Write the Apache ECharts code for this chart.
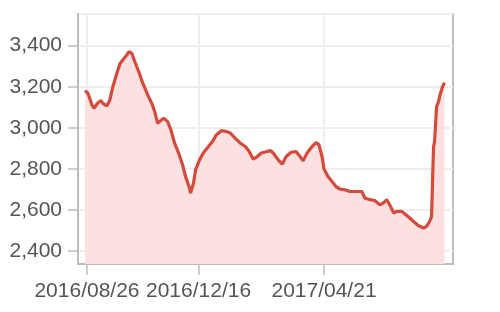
<!DOCTYPE html>
<html>
<head>
<meta charset="utf-8">
<script src="https://cdn.jsdelivr.net/npm/echarts@6/dist/echarts.min.js"></script>
<style>
html,body{margin:0;padding:0;background:#fff;}
#c{width:500px;height:312px;}
</style>
</head>
<body>
<div id="c"></div>
<script>
var dates = [
'2016-08-24','2016-08-27','2016-08-31','2016-09-02','2016-09-06','2016-09-09','2016-09-11','2016-09-15','2016-09-18','2016-09-21',
'2016-09-25','2016-09-28','2016-10-01','2016-10-05','2016-10-07','2016-10-10','2016-10-13','2016-10-17','2016-10-21','2016-10-26',
'2016-10-30','2016-11-02','2016-11-05','2016-11-07','2016-11-11','2016-11-15','2016-11-18','2016-11-22','2016-11-26','2016-11-30',
'2016-12-03','2016-12-07','2016-12-08','2016-12-11','2016-12-13','2016-12-17','2016-12-21','2016-12-26','2016-12-30','2017-01-03',
'2017-01-08','2017-01-13','2017-01-17','2017-01-22','2017-01-27','2017-02-01','2017-02-05','2017-02-09','2017-02-13','2017-02-17',
'2017-02-21','2017-02-26','2017-03-01','2017-03-06','2017-03-10','2017-03-14','2017-03-19','2017-03-24','2017-03-28','2017-03-31',
'2017-04-04','2017-04-09','2017-04-13','2017-04-16','2017-04-19','2017-04-21','2017-04-25','2017-04-29','2017-05-03','2017-05-07',
'2017-05-12','2017-05-17','2017-05-22','2017-05-29','2017-06-01','2017-06-06','2017-06-11','2017-06-16','2017-06-20','2017-06-23',
'2017-06-26','2017-06-30','2017-07-03','2017-07-08','2017-07-11','2017-07-16','2017-07-21','2017-07-25','2017-07-30','2017-08-02',
'2017-08-05','2017-08-07','2017-08-08','2017-08-09','2017-08-10','2017-08-12','2017-08-14','2017-08-15','2017-08-18','2017-08-20'
];
var values = [
3181,3168,3111,3095,3122,3132,3119,3106,3136,3200,
3265,3311,3330,3354,3370,3363,3322,3273,3217,3160,
3120,3079,3022,3030,3047,3030,2994,2925,2877,2820,
2763,2706,2682,2731,2795,2844,2879,2909,2933,2966,
2986,2982,2974,2949,2925,2909,2884,2847,2860,2877,
2882,2889,2877,2844,2823,2860,2881,2884,2860,2839,
2877,2909,2928,2917,2860,2799,2763,2739,2714,2702,
2698,2690,2690,2690,2658,2650,2646,2625,2636,2650,
2625,2585,2593,2593,2582,2561,2539,2523,2512,2520,
2544,2568,2747,2909,2933,3103,3127,3152,3200,3220
];
var xTickLabels = ['2016/08/26','2016/12/16','2017/04/21'];

function toTs(s){
  var p = s.split(/[-\/]/);
  return Date.UTC(+p[0], +p[1]-1, +p[2]);
}
var xTickValues = xTickLabels.map(toTs);
var seriesData = dates.map(function(d,i){ return [toTs(d), values[i]]; });

var chart = echarts.init(document.getElementById('c'), null, {renderer:'canvas'});
var labelColor = '#555555';
var frameColor = '#bdbdbd';
chart.setOption({
  animation: false,
  grid: {left:78, right:47, top:14, bottom:48, show:true, borderColor:frameColor, borderWidth:2, backgroundColor:'#fff'},
  xAxis: {
    type:'value',
    min: Date.UTC(2016,7,17),
    max: Date.UTC(2017,7,28,12),
    scale:true,
    axisLine:{show:true, lineStyle:{color:frameColor, width:2}},
    axisTick:{show:true, length:11, lineStyle:{color:frameColor, width:1.5}, customValues: xTickValues},
    axisLabel:{
      customValues: xTickValues,
      margin:17,
      color:labelColor,
      fontFamily:'Liberation Sans, Arial, sans-serif',
      fontSize:21,
      formatter:function(v){
        var i = xTickValues.indexOf(v);
        return i >= 0 ? xTickLabels[i] : '';
      }
    },
    splitLine:{show:true, lineStyle:{color:'#eeeeee', width:2}}
  },
  yAxis: {
    type:'value',
    min:2337,
    max:3554,
    splitNumber:5,
    axisLine:{show:true, lineStyle:{color:frameColor, width:2}},
    axisTick:{show:true, length:10, lineStyle:{color:frameColor, width:1.5}},
    axisLabel:{
      showMinLabel:false,
      showMaxLabel:false,
      margin:16,
      color:labelColor,
      fontFamily:'Liberation Sans, Arial, sans-serif',
      fontSize:21,
      formatter:function(v){ return v.toLocaleString('en-US'); }
    },
    splitLine:{show:true, lineStyle:{color:'#eeeeee', width:2}}
  },
  series: [{
    type:'line',
    data: seriesData,
    showSymbol:false,
    smooth:false,
    lineStyle:{color:'#d24b3c', width:3.2},
    itemStyle:{color:'#d24b3c'},
    areaStyle:{color:'#fde1e1', opacity:1}
  }]
});
</script>
</body>
</html>
